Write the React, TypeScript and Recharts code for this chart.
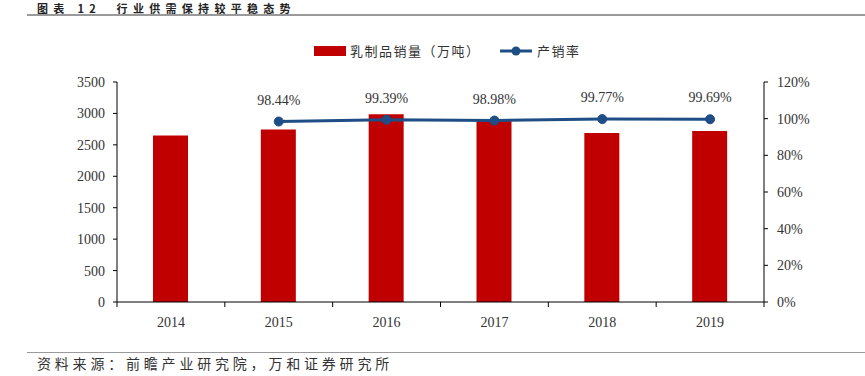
import React from "react";
import { ComposedChart, Bar, Line, XAxis, YAxis, LabelList } from "recharts";

const years = ["2014", "2015", "2016", "2017", "2018", "2019"];
const sales = [2650, 2745, 2985, 2905, 2690, 2720];
const rate = [null, 0.9844, 0.9939, 0.9898, 0.9977, 0.9969];
const leftTicks = [0, 500, 1000, 1500, 2000, 2500, 3000, 3500];
const rightTicks = [0, 0.2, 0.4, 0.6, 0.8, 1.0, 1.2];

const data = years.map((y, i) => ({ year: y, sales: sales[i], rate: rate[i] }));

const serif = "'Liberation Serif', 'DejaVu Serif', serif";
const cjk = "'Noto Sans CJK SC', sans-serif";
const BAR = "#C00000";
const LINE = "#1F4E86";

export default function App() {
  return (
    <div style={{ position: "absolute", left: 0, top: 0, width: 865, height: 376, background: "#fff", overflow: "hidden" }}>
      <div style={{ position: "absolute", left: 37, top: 3, lineHeight: "11px", fontFamily: cjk, fontWeight: 700, fontSize: 11, letterSpacing: 5.3, color: "#222", whiteSpace: "pre" }}>
        图表 12{"  "}行业供需保持较平稳态势
      </div>
      <div style={{ position: "absolute", left: 27, top: 14, width: 838, height: 2, background: "#9a9a9a" }} />
      <div style={{ position: "absolute", left: 0, top: 0 }}>
        <ComposedChart width={865} height={376} data={data} margin={{ top: 82, right: 0, bottom: 0, left: 0 }} barCategoryGap={0}>
          <XAxis
            dataKey="year"
            height={74}
            axisLine={{ stroke: "#000", strokeWidth: 1 }}
            tickLine={false}
            tick={{ fontFamily: serif, fontSize: 14, fill: "#333" }}
            tickMargin={9}
          />
          <YAxis
            yAxisId="left"
            width={117}
            domain={[0, 3500]}
            ticks={leftTicks}
            interval={0}
            axisLine={{ stroke: "#000" }}
            tickLine={{ stroke: "#000" }}
            tickSize={4}
            tickMargin={8}
            tick={{ fontFamily: serif, fontSize: 14, fill: "#333" }}
          />
          <YAxis
            yAxisId="right"
            orientation="right"
            width={101}
            domain={[0, 1.2]}
            ticks={rightTicks}
            interval={0}
            axisLine={{ stroke: "#000" }}
            tickLine={{ stroke: "#000" }}
            tickSize={4}
            tickMargin={9}
            tickFormatter={(v: number) => `${Math.round(v * 100)}%`}
            tick={{ fontFamily: serif, fontSize: 14, fill: "#333" }}
          />
          <Bar yAxisId="left" dataKey="sales" fill={BAR} barSize={35} isAnimationActive={false} />
          <Line
            yAxisId="right"
            dataKey="rate"
            stroke={LINE}
            strokeWidth={3}
            dot={{ r: 4.5, fill: LINE, stroke: LINE, strokeWidth: 1 }}
            isAnimationActive={false}
          >
            <LabelList
              dataKey="rate"
              position="top"
              offset={17}
              formatter={(v: any) => (v == null ? "" : `${(v * 100).toFixed(2)}%`)}
              style={{ fontFamily: serif, fontSize: 14, fill: "#333" }}
            />
          </Line>
        </ComposedChart>
      </div>
      <svg style={{ position: "absolute", left: 0, top: 0 }} width={865} height={376} pointerEvents="none">
        {[1, 2, 3, 4, 5].map((i) => {
          const x = 117 + (647 / 6) * i;
          return <line key={i} x1={x} x2={x} y1={302} y2={307} stroke="#000" strokeWidth={1} />;
        })}
        <line x1={117} x2={117} y1={302} y2={307} stroke="#000" strokeWidth={1} />
        <line x1={764} x2={764} y1={302} y2={307} stroke="#000" strokeWidth={1} />
      </svg>
      <div style={{ position: "absolute", left: 314, top: 46, width: 32, height: 10, background: BAR }} />
      <div style={{ position: "absolute", left: 350, top: 41, fontFamily: cjk, fontSize: 13, letterSpacing: 1.5, color: "#333" }}>乳制品销量（万吨）</div>
      <svg style={{ position: "absolute", left: 498, top: 43 }} width={36} height={16}>
        <line x1={2} x2={34} y1={8} y2={8} stroke={LINE} strokeWidth={3} />
        <circle cx={18} cy={8} r={4.5} fill={LINE} />
      </svg>
      <div style={{ position: "absolute", left: 537, top: 41, fontFamily: cjk, fontSize: 13, letterSpacing: 1.5, color: "#333" }}>产销率</div>
      <div style={{ position: "absolute", left: 27, top: 352, width: 838, height: 1, background: "#9a9a9a" }} />
      <div style={{ position: "absolute", left: 37, top: 353, fontFamily: cjk, fontSize: 14, letterSpacing: 3.8, color: "#333", whiteSpace: "pre" }}>
        资料来源：前瞻产业研究院，万和证券研究所
      </div>
    </div>
  );
}
